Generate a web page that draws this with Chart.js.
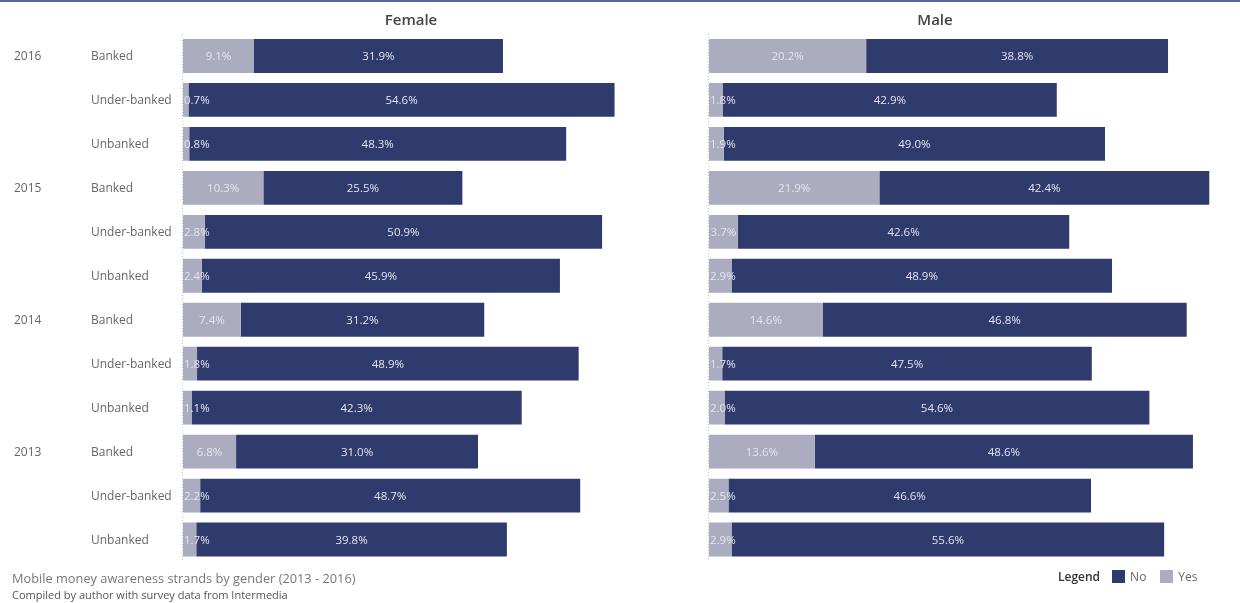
<!DOCTYPE html>
<html>
<head>
<meta charset="utf-8">
<script src="https://cdn.jsdelivr.net/npm/chart.js@4.4.1/dist/chart.umd.min.js"></script>
<style>
  body { margin: 0; background: #fff; font-family: "Open Sans", sans-serif; }
  #page { position: relative; width: 1240px; height: 603px; overflow: hidden; }
  #topline { position: absolute; left: 0; top: 0; width: 1240px; height: 2px; background: #56639c; }
  canvas { position: absolute; top: 0; }
  #female { left: 0; }
  #male { left: 700px; }
  .head { position: absolute; top: 9px; font-size: 15px; font-weight: 600; color: #444; transform: translateX(-50%); }
  #caption { position: absolute; left: 12px; top: 569px; font-size: 12.8px; color: #777; }
  #source { position: absolute; left: 12px; top: 587px; font-size: 11px; color: #555; }
  #legend { position: absolute; left: 1058px; top: 568px; font-size: 12px; color: #666; display: flex; align-items: center; }
  #legend b { font-weight: 600; color: #333; margin-right: 12px; }
  #legend i { display: inline-block; width: 13px; height: 13px; margin-right: 5px; }
</style>
</head>
<body>
<div id="page">
  <div id="topline"></div>
  <canvas id="female" width="700" height="603"></canvas>
  <canvas id="male" width="540" height="603"></canvas>
  <div class="head" style="left:411px">Female</div>
  <div class="head" style="left:935px">Male</div>
  <div id="caption">Mobile money awareness strands by gender (2013 - 2016)</div>
  <div id="source">Compiled by author with survey data from Intermedia</div>
  <div id="legend"><b>Legend</b><i style="background:#2f3a6d"></i><span style="margin-right:14px">No</span><i style="background:#abacbf"></i><span>Yes</span></div>
</div>
<script>
const years = ["2016", "2015", "2014", "2013"];
const strands = ["Banked", "Under-banked", "Unbanked"];

// share of respondents aware of mobile money, per row (year x strand)
const femaleYes = [9.1, 0.7, 0.8, 10.3, 2.8, 2.4, 7.4, 1.8, 1.1, 6.8, 2.2, 1.7];
const femaleNo = [31.9, 54.6, 48.3, 25.5, 50.9, 45.9, 31.2, 48.9, 42.3, 31.0, 48.7, 39.8];
const maleYes = [20.2, 1.8, 1.9, 21.9, 3.7, 2.9, 14.6, 1.7, 2.0, 13.6, 2.5, 2.9];
const maleNo = [38.8, 42.9, 49.0, 42.4, 42.6, 48.9, 46.8, 47.5, 54.6, 48.6, 46.6, 55.6];

const rows = years.flatMap(y => strands.map(s => y + " " + s));

const YES_COLOR = "#abacbf";
const NO_COLOR = "#2f3a6d";

// value labels inside each segment, left aligned when they don't fit
const barLabels = {
  id: "barLabels",
  afterDatasetsDraw(chart) {
    const ctx = chart.ctx;
    ctx.save();
    ctx.font = '11.5px "Open Sans"';
    ctx.fillStyle = "#e4e4ee";
    ctx.textBaseline = "middle";
    chart.data.datasets.forEach((ds, di) => {
      chart.getDatasetMeta(di).data.forEach((bar, i) => {
        const text = ds.data[i].toFixed(1) + "%";
        const w = ctx.measureText(text).width;
        const left = Math.min(bar.base, bar.x);
        const right = Math.max(bar.base, bar.x);
        let x = (left + right) / 2 - w / 2;
        if (w > right - left) x = left + 1;
        ctx.fillText(text, x, bar.y + 1);
      });
    });
    ctx.restore();
  }
};

// dotted zero line
const zeroLine = {
  id: "zeroLine",
  beforeDatasetsDraw(chart) {
    const ctx = chart.ctx;
    const x = Math.round(chart.scales.x.getPixelForValue(0)) - 0.5;
    ctx.save();
    ctx.strokeStyle = "#c8c8c8";
    ctx.lineWidth = 1;
    ctx.setLineDash([1, 2]);
    ctx.beginPath();
    ctx.moveTo(x, chart.chartArea.top);
    ctx.lineTo(x, chart.chartArea.bottom);
    ctx.stroke();
    ctx.restore();
  }
};

// year and strand labels on the left of the female panel
const rowLabels = {
  id: "rowLabels",
  afterDraw(chart) {
    const ctx = chart.ctx;
    const y = chart.scales.y;
    ctx.save();
    ctx.font = '12px "Open Sans"';
    ctx.fillStyle = "#666";
    ctx.textBaseline = "middle";
    years.forEach((yr, yi) => {
      strands.forEach((s, si) => {
        const idx = yi * strands.length + si;
        const py = y.getPixelForValue(idx) + 1;
        if (si === 0) ctx.fillText(yr, 14, py);
        ctx.fillText(s, 91, py);
      });
    });
    ctx.restore();
  }
};

function makeChart(id, yes, no, max, padding, extra) {
  return new Chart(document.getElementById(id).getContext("2d"), {
    type: "bar",
    data: {
      labels: rows,
      datasets: [
        { label: "Yes", data: yes, backgroundColor: YES_COLOR },
        { label: "No", data: no, backgroundColor: NO_COLOR }
      ]
    },
    plugins: [zeroLine, barLabels].concat(extra),
    options: {
      indexAxis: "y",
      responsive: false,
      animation: false,
      layout: { padding: padding },
      datasets: { bar: { categoryPercentage: 1, barPercentage: 0.77 } },
      scales: {
        x: { stacked: true, min: 0, max: max, display: false },
        y: { stacked: true, display: false }
      },
      plugins: { legend: { display: false }, tooltip: { enabled: false } }
    }
  });
}

const femaleChart = makeChart("female", femaleYes, femaleNo, 65.8, { left: 183, right: 3.5, top: 34, bottom: 41.5 }, [rowLabels]);
const maleChart = makeChart("male", maleYes, maleNo, 66, { left: 9, right: 17.5, top: 34, bottom: 41.5 }, []);
</script>
</body>
</html>
